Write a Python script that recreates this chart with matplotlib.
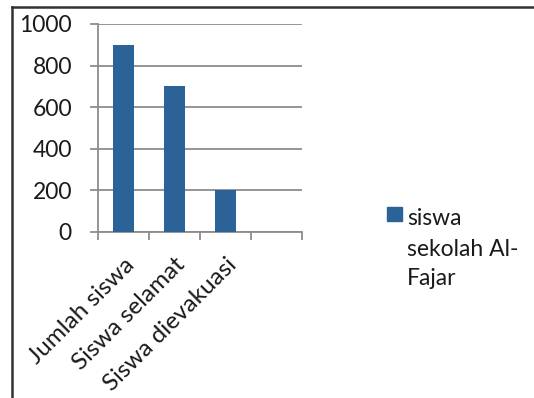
import matplotlib
matplotlib.use("Agg")
import matplotlib.pyplot as plt
import matplotlib.transforms as mtransforms
from matplotlib.lines import Line2D
from matplotlib.patches import Rectangle

categories = ["Jumlah siswa", "Siswa selamat", "Siswa dievakuasi", ""]
values = [900, 700, 200]
legend_lines = ["siswa", "sekolah Al-", "Fajar"]
yticks = [0, 200, 400, 600, 800, 1000]

plt.rcParams['font.family'] = ['Lato', 'DejaVu Sans']

W, H = 534, 398
fig = plt.figure(figsize=(W / 100, H / 100), dpi=100)
ax = fig.add_axes([98 / W, 1 - 232 / H, 204 / W, 208 / H])

text_color = "#1a1a1a"
grid_color = "#8c8c8c"
bar_color = "#2B6399"

x = list(range(len(categories)))
ax.bar(x[:len(values)], values, width=0.4, color=bar_color, zorder=3)

ax.set_xlim(-0.5, len(categories) - 0.5)
ax.set_ylim(0, 1000)
ax.set_yticks(yticks)
ax.set_yticklabels([str(v) for v in yticks], fontsize=16.5, color=text_color)
ax.yaxis.grid(True, color=grid_color, linewidth=1.3, zorder=0)
ax.set_axisbelow(True)

# category boundaries as ticks, labels at the centers
ax.set_xticks([i - 0.5 for i in range(len(categories) + 1)])
ax.set_xticklabels([])
ax.set_xticks(x, minor=True)
ax.set_xticklabels(categories, minor=True, rotation=45, ha="right",
                   rotation_mode="anchor", fontsize=17.5, color=text_color)
shift = mtransforms.ScaledTranslation(4 / 100, 0, fig.dpi_scale_trans)
for lbl in ax.get_xticklabels(minor=True):
    lbl.set_transform(lbl.get_transform() + shift)
ax.tick_params(axis="x", which="major", length=5.5, width=1.3, color=grid_color)
ax.tick_params(axis="x", which="minor", length=0, pad=16)
ax.tick_params(axis="y", length=5.8, width=1.3, color=grid_color, pad=13)

for side in ["top", "right"]:
    ax.spines[side].set_visible(False)
for side in ["left", "bottom"]:
    ax.spines[side].set_color(grid_color)
    ax.spines[side].set_linewidth(1.3)

# legend: square key next to the first line of a wrapped label
fig.add_artist(Rectangle((387 / W, 1 - 221 / H), 15 / W, 14 / H,
                         transform=fig.transFigure, color=bar_color))
baselines = [225, 256, 285]
for line, yb in zip(legend_lines, baselines):
    fig.text(407 / W, 1 - yb / H, line, fontsize=16.5, color=text_color,
             ha="left", va="baseline")

# outer frame (top and left edges)
fig.add_artist(Line2D([12 / W, 1], [1 - 7 / H, 1 - 7 / H],
                      transform=fig.transFigure, color="#333333", linewidth=1.8))
fig.add_artist(Line2D([12 / W, 12 / W], [0, 1 - 7 / H],
                      transform=fig.transFigure, color="#333333", linewidth=1.8))

fig.savefig("out.png", dpi=100)
